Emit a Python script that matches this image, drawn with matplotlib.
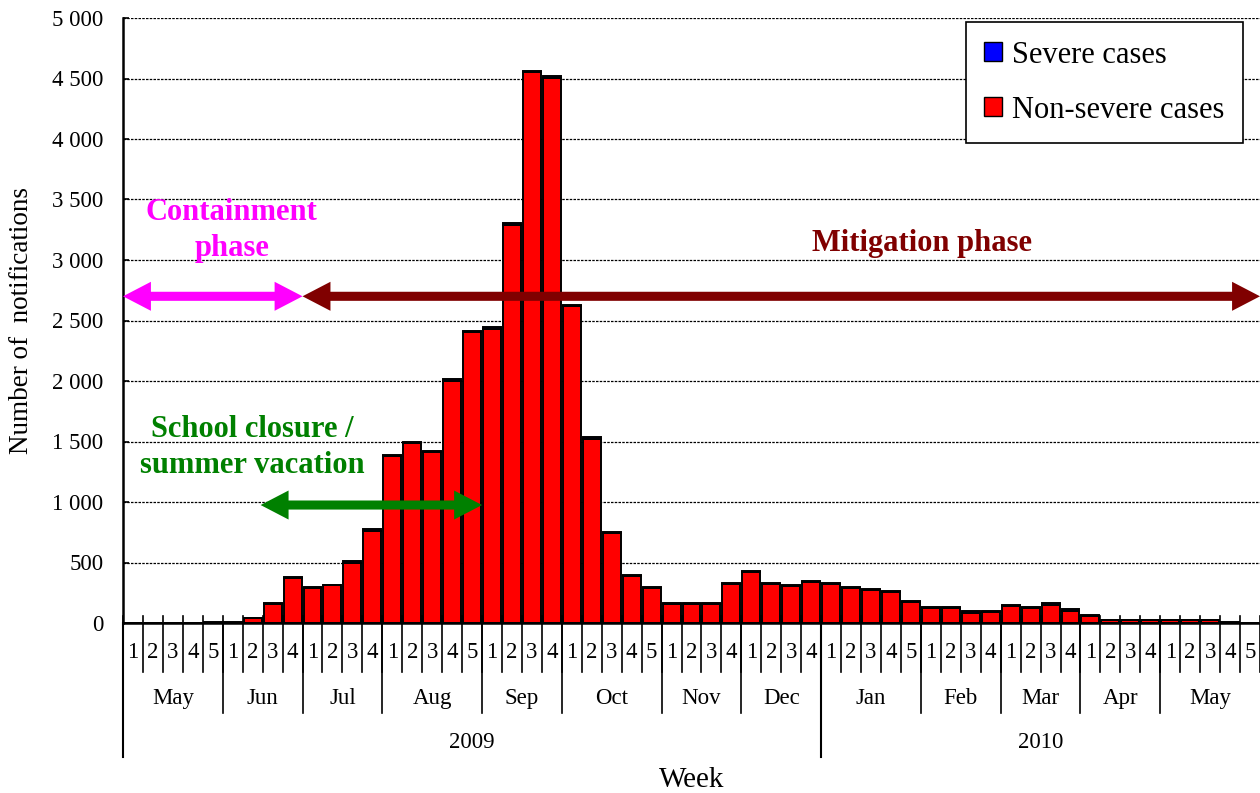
import numpy as np
import matplotlib
matplotlib.use("Agg")
import matplotlib.pyplot as plt
import matplotlib.patches as mpatches
import matplotlib.transforms as mtransforms

plt.rcParams['font.family'] = ['Liberation Serif', 'DejaVu Serif']

# %% data

months = ['May', 'Jun', 'Jul', 'Aug', 'Sep', 'Oct', 'Nov', 'Dec',
          'Jan', 'Feb', 'Mar', 'Apr', 'May']
weeks_per_month = [5, 4, 4, 5, 4, 5, 4, 4, 5, 4, 4, 4, 5]
years = ['2009', '2010']
months_per_year = [8, 5]

# notifications per week (non-severe / severe)
non_severe = [0, 0, 0, 0, 2,
              3, 40, 160, 375,
              290, 310, 498, 763,
              1378, 1488, 1413, 2003, 2403,
              2433, 3293, 4553, 4508,
              2618, 1523, 742, 392, 293,
              158, 155, 158, 326,
              420, 326, 308, 336,
              326, 288, 270, 258, 170,
              124, 124, 86, 90,
              138, 124, 152, 102,
              56, 24, 24, 24,
              24, 24, 24, 2, 1]
severe = [0, 0, 0, 0, 6,
          5, 5, 5, 5,
          5, 5, 12, 12,
          12, 12, 12, 12, 12,
          12, 12, 12, 12,
          12, 12, 8, 8, 5,
          5, 12, 5, 6,
          12, 6, 7, 12,
          6, 12, 12, 8, 12,
          6, 6, 12, 6,
          12, 6, 12, 12,
          6, 4, 4, 4,
          4, 4, 4, 9, 2]

# phase periods (week positions) and arrow height
containment = (-0.5, 8.5)
mitigation = (8.5, 56.5)
school = (6.4, 17.5)
phase_y = 2700
school_y = 975

# %% plot

fig = plt.figure(figsize=(12.6, 7.93), dpi=100)
ax = fig.add_axes([123/1260, 1 - 623/793, 1137/1260, 605/793])

x = np.arange(len(non_severe))
ax.bar(x, non_severe, width=0.9, color='#FF0000', edgecolor='black', linewidth=1.4, zorder=2)
ax.bar(x, severe, width=0.9, bottom=non_severe, color='#0000FF', edgecolor='black',
       linewidth=1.4, zorder=2)

ax.set_xlim(-0.5, len(x) - 0.5)
ax.set_ylim(0, 5000)
yt = np.arange(0, 5001, 500)
ax.set_yticks(yt)
ax.set_yticklabels([f'{v:,}'.replace(',', ' ') for v in yt], fontsize=16.5)
ax.tick_params(axis='y', direction='in', length=4, width=1.2, pad=14)
ax.set_xticks([])
ax.yaxis.grid(True, color='black', linestyle=(0, (2, 1)), linewidth=0.9)
ax.set_axisbelow(True)
for s in ['top', 'right']:
    ax.spines[s].set_visible(False)
ax.spines['left'].set_linewidth(1.8)
ax.spines['bottom'].set_linewidth(1.8)

ax.text(-0.089, 0.5, 'Number of  notifications', transform=ax.transAxes, rotation=90,
        ha='center', va='center', fontsize=19.5)

# %% week / month / year axis below the plot
tr = mtransforms.blended_transform_factory(ax.transData, ax.transAxes)
bounds = np.arange(len(x) + 1) - 0.5
for b in bounds:
    ax.plot([b, b], [0.012, -0.081], color='black', lw=1.2, transform=tr, clip_on=False)
wk = 0
for m, n in zip(months, weeks_per_month):
    for i in range(n):
        ax.text(wk + i, -0.048, str(i + 1), transform=tr, ha='center', va='center', fontsize=16.5)
    ax.text(wk + (n - 1) / 2, -0.124, m, transform=tr, ha='center', va='center', fontsize=16.5)
    ax.plot([wk - 0.5, wk - 0.5], [0, -0.149], color='black', lw=1.2, transform=tr, clip_on=False)
    wk += n

cum = np.cumsum([0] + weeks_per_month)
mstart = 0
for yname, nm in zip(years, months_per_year):
    a = cum[mstart] - 0.5
    b = cum[mstart + nm] - 0.5
    ax.text((a + b) / 2, -0.197, yname, transform=tr, ha='center', va='center', fontsize=16.5)
    ax.plot([a, a], [0, -0.221], color='black', lw=1.5, transform=tr, clip_on=False)
    mstart += nm

ax.text(0.5, -0.26, 'Week', transform=ax.transAxes, ha='center', va='center', fontsize=21)

# %% phase arrows and labels
def arrow(span, y, col, w=75, hw=240, hl=1.4):
    # double headed arrow as a single polygon (x in weeks, y in notifications)
    x0, x1 = span
    pts = [(x0, y), (x0 + hl, y + hw/2), (x0 + hl, y + w/2), (x1 - hl, y + w/2),
           (x1 - hl, y + hw/2), (x1, y), (x1 - hl, y - hw/2), (x1 - hl, y - w/2),
           (x0 + hl, y - w/2), (x0 + hl, y - hw/2)]
    ax.add_patch(mpatches.Polygon(pts, closed=True, facecolor=col, edgecolor='none',
                                  zorder=5, clip_on=False))

arrow(containment, phase_y, '#FF00FF')
arrow(mitigation, phase_y, '#800000')
arrow(school, school_y, '#008000')

ax.text(4.96, 3244, 'Containment\nphase', color='#FF00FF', fontsize=22, fontweight='bold',
        ha='center', va='center', linespacing=1.33)
ax.text(39.55, 3136, 'Mitigation phase', color='#800000', fontsize=22, fontweight='bold',
        ha='center', va='center')
ax.text(5.97, 1450, 'School closure /\nsummer vacation', color='#008000', fontsize=22,
        fontweight='bold', ha='center', va='center', linespacing=1.3)

# %% legend
handles = [mpatches.Patch(facecolor='#0000FF', edgecolor='black', label='Severe cases'),
           mpatches.Patch(facecolor='#FF0000', edgecolor='black', label='Non-severe cases')]
leg = ax.legend(handles=handles, loc='upper right', bbox_to_anchor=(0.985, 0.993),
                borderaxespad=0, fontsize=22, handlelength=0.56, handleheight=0.6,
                handletextpad=0.35, labelspacing=0.85, fancybox=False, framealpha=1,
                edgecolor='black', borderpad=0.6)
leg.get_frame().set_linewidth(1.2)

plt.savefig('out.png', dpi=100)
